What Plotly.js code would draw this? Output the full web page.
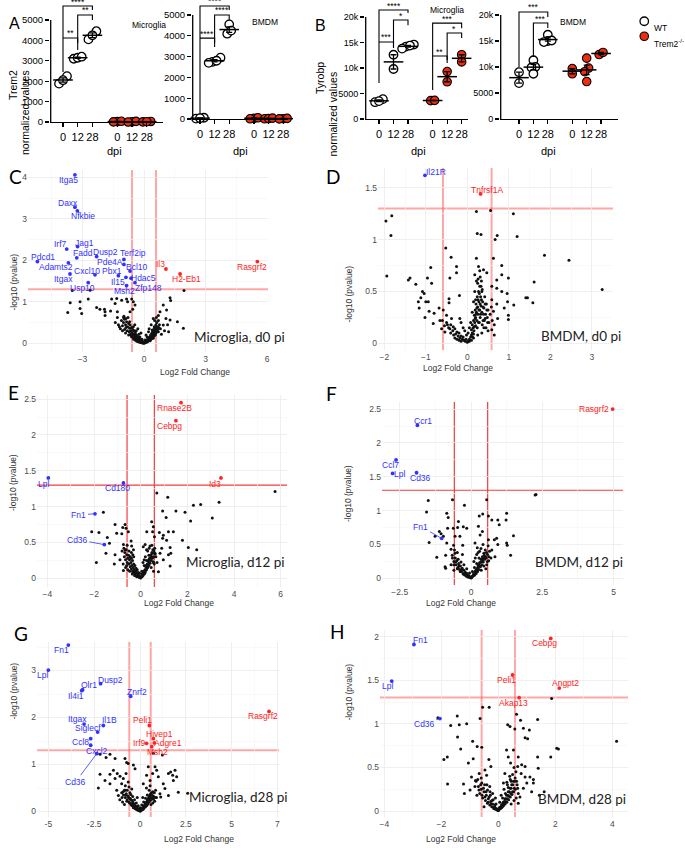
<!DOCTYPE html>
<html><head><meta charset="utf-8">
<script src="https://cdn.plot.ly/plotly-3.0.1.min.js"></script>
<style>html,body{margin:0;padding:0;background:#fff}</style>
</head><body><div id="chart" style="width:685px;height:851px"></div>
<script>
// ================= DATA =================
const dpiLabels = ['0','12','28'];
const genotypes = ['WT','Trem2<sup>-/-</sup>'];
// Panel A: Trem2 normalized values [dpi0, dpi12, dpi28]
const trem2MicWT  = [[2250,1880,2050],[3100,3150,3200],[4450,4050,4250]];
const trem2MicKO  = [[20,5,35],[10,30,0],[25,5,15]];
const trem2BmdmWT = [[20,60,40],[2950,2750,2700,2800],[4550,4100,4250]];
const trem2BmdmKO = [[30,60,10],[10,20,40],[15,5,30]];
// Panel B: Tyrobp normalized values
const tyrobpMicWT  = [[3900,3300,3500],[12600,9800],[14600,14200,13800,14400]];
const tyrobpMicKO  = [[3600,3650],[9300,7300],[12600,11200]];
const tyrobpBmdmWT = [[9000,6900],[11300,10000,9900,8700],[16200,15000,14800,15100]];
const tyrobpBmdmKO = [[9700,8700],[11700,9800,9100,7200],[12400,12800]];

// Volcano panels: [log2FC, -log10 p] for unlabelled genes
const cPoints = [[-3.5,1.27],[-3.12,1.0],[-3.12,0.84],[-3.6,0.98],[-3.72,0.74],[-3.04,0.72],[-2.72,1.07],[-2.63,1.28],[-2.31,0.86],[-2.15,0.82],[-1.93,0.82],[-1.9,0.67],[-1.9,0.76],[-1.58,1.07],[-1.41,0.96],[-1.33,1.08],[-1.3,0.76],[-1.63,0.78],[-1.09,1.04],[-0.85,1.07],[-0.8,1.0],[-0.6,1.07],[-0.52,1.0],[-0.44,0.92],[-0.55,0.82],[-0.68,0.76],[1.95,1.27],[1.27,1.1],[1.3,1.03],[1.1,0.8],[0.94,0.92],[0.78,0.76],[0.7,0.67],[1.27,0.56],[1.63,0.52],[1.92,0.36],[1.2,0.28],[0.94,0.44],[1.07,0.6],
[-1.1,0.55],[-1.0,0.5],[-0.95,0.58],[-0.9,0.45],[-0.85,0.52],[-0.8,0.4],[-0.75,0.48],[-0.7,0.36],[-0.68,0.44],[-0.65,0.3],[-0.6,0.38],[-0.58,0.26],[-0.55,0.33],[-0.5,0.22],[-0.48,0.3],[-0.45,0.18],[-0.42,0.25],[-0.4,0.14],[-0.38,0.2],[-0.35,0.12],[-0.32,0.17],[-0.3,0.09],[-0.28,0.14],[-0.25,0.07],[-0.22,0.11],[-0.2,0.05],[-0.18,0.09],[-0.15,0.04],[-0.12,0.06],[-0.1,0.02],[-0.08,0.04],[-0.05,0.01],[-0.03,0.03],[0,0.01],[0.02,0.02],[0.05,0.03],[0.08,0.05],[0.1,0.03],[0.12,0.07],[0.15,0.05],[0.18,0.1],[0.2,0.08],[0.22,0.13],[0.25,0.1],[0.28,0.16],[0.3,0.12],[0.32,0.2],[0.35,0.15],[0.38,0.24],[0.4,0.18],[0.42,0.28],[0.45,0.22],[0.48,0.33],[0.5,0.26],[0.52,0.38],[0.55,0.3],[0.58,0.44],[0.6,0.35],[0.62,0.5],[0.65,0.4],[0.7,0.55],[0.75,0.45],
[-1.3,0.62],[-1.2,0.4],[-1.05,0.3],[-0.9,0.25],[-0.75,0.2],[-0.6,0.15],[-0.5,0.1],[-0.35,0.05],[-0.2,0.15],[-0.1,0.1],[0.05,0.08],[0.15,0.15],[0.3,0.06],[0.45,0.12],[0.55,0.2],[0.7,0.28],[0.8,0.35],[0.85,0.22],[1.0,0.3],[1.15,0.45],[-1.4,0.5],[-1.25,0.45],[-0.98,0.65],[-0.78,0.62],[0.35,0.45],[0.25,0.35],[-0.15,0.25],[-0.3,0.35],[-0.45,0.45],[0.6,0.62]];
const cPoints2 = [[-1.15,0.35],[-1.05,0.42],[-0.95,0.33],[-0.88,0.38],[-0.82,0.3],[-0.72,0.28],[-0.66,0.22],[-0.62,0.18],[-0.56,0.2],[-0.52,0.14],[-0.46,0.12],[-0.43,0.08],[-0.37,0.08],[-0.33,0.06],[-0.27,0.04],[-0.23,0.03],[-0.17,0.02],[-0.13,0.02],[-0.07,0.01],[0.03,0.01],[0.07,0.02],[0.13,0.03],[0.17,0.04],[0.23,0.06],[0.27,0.07],[0.33,0.09],[0.37,0.11],[0.43,0.14],[0.47,0.17],[0.53,0.2],[0.57,0.24],[0.63,0.28],[0.67,0.33],[0.72,0.38],[-0.7,0.52],[-0.52,0.4],[-0.38,0.3],[-0.25,0.22],[0.1,0.2],[0.22,0.28],[0.4,0.32],[0.5,0.4],[-1.0,0.62],[-0.88,0.6],[0.52,0.55],[0.45,0.6]];
const cGenes = ['Itga5','Daxx','Nfkbie','Irf7','Jag1','Fadd','Pdcd1','Adamts2','Dusp2','Terf2ip','Pde4A','Bcl10','Cxcl10','Pbx1','Itgax','Hdac5','Il15','Zfp148','Usp10','Msh2','Il3','H2-Eb1','Rasgrf2'];
const cGeneFC = [-3.37,-3.37,-3.25,-3.77,-3.24,-3.28,-5.2,-3.69,-2.31,-0.98,-0.98,-0.68,-2.39,-1.25,-3.61,-0.63,-0.88,-0.44,-2.72,-0.85,1.07,1.76,5.53];
const cGeneP  = [4.06,3.28,3.19,2.27,2.33,2.06,1.97,1.94,2.09,2.02,1.9,1.74,1.65,1.63,1.67,1.57,1.59,1.46,1.46,1.39,1.79,1.67,1.97];

const dPoints = [[-1.96,1.18],[-1.82,1.23],[-1.84,1.04],[-1.94,0.65],[-1.42,0.61],[-1.38,0.63],[-1.24,0.57],[-1.08,0.5],[-1.04,0.48],[-1.12,0.44],[-1.18,0.4],[-1.16,0.34],[-1.0,0.4],[-0.94,0.4],[-0.96,0.63],[-0.88,0.73],[-0.86,0.58],[-1.02,0.25],[-0.92,0.31],[-0.8,0.29],[-0.82,0.19],[-0.68,0.34],[-0.66,0.22],[-0.6,0.22],[-0.58,0.32],[-0.52,0.92],[-0.39,0.83],[-0.26,0.74],[-0.26,0.68],[-0.42,0.63],[-0.44,0.43],[-0.44,0.39],[-0.19,0.46],[-0.5,0.27],[-0.38,0.24],[-0.34,0.16],[-0.18,0.24],[-0.54,0.11],[-0.62,0.14],
[0.22,1.27],[0.56,1.28],[1.11,1.25],[0.24,1.06],[0.33,1.05],[0.72,1.04],[0.67,1.0],[1.2,1.03],[0.22,0.82],[0.63,0.82],[0.27,0.74],[0.39,0.71],[0.18,0.66],[0.31,0.64],[0.47,0.68],[0.83,0.75],[0.83,0.66],[0.99,0.63],[0.71,0.61],[0.59,0.55],[0.71,0.53],[0.83,0.5],[0.96,0.48],[0.97,0.4],[0.99,0.27],[0.99,0.23],[0.89,0.34],[0.71,0.38],[0.59,0.42],[0.63,0.31],[1.12,0.37],[1.41,0.44],[1.45,0.44],[1.58,0.39],[1.61,0.59],[1.86,0.85],[2.45,0.8],[3.25,0.52],[0.65,0.18],[0.59,0.13],[0.65,0.08],[0.73,0.24],[0.43,0.24],
[-0.5,0.2],[-0.45,0.15],[-0.4,0.18],[-0.35,0.12],[-0.3,0.14],[-0.28,0.09],[-0.25,0.11],[-0.22,0.07],[-0.2,0.1],[-0.18,0.05],[-0.15,0.07],[-0.12,0.04],[-0.1,0.06],[-0.08,0.03],[-0.05,0.02],[-0.03,0.04],[0,0.01],[0.02,0.02],[0.05,0.04],[0.08,0.06],[0.1,0.08],[0.1,0.13],[0.12,0.1],[0.12,0.18],[0.14,0.15],[0.15,0.22],[0.16,0.12],[0.17,0.27],[0.18,0.2],[0.19,0.32],[0.2,0.17],[0.2,0.25],[0.21,0.38],[0.22,0.3],[0.23,0.22],[0.24,0.45],[0.25,0.35],[0.26,0.28],[0.27,0.5],[0.28,0.4],[0.29,0.2],[0.3,0.32],[0.3,0.55],[0.31,0.25],[0.32,0.45],[0.33,0.36],[0.34,0.6],[0.35,0.3],[0.36,0.52],[0.37,0.4],[0.38,0.22],[0.4,0.34],[0.42,0.45],[0.44,0.28],[0.46,0.38],[0.48,0.25],[0.5,0.32],[0.52,0.2],[0.55,0.28],[0.58,0.35],[0.6,0.22],[0.12,0.3],[0.08,0.2],[0.05,0.15],[0.15,0.4],[0.18,0.5],[0.22,0.6],[0.25,0.58],[0.3,0.7],[0.02,0.1],[-0.02,0.08],[-0.06,0.12],[-0.1,0.15],[-0.15,0.2],[-0.3,0.05],[-0.4,0.1],[-0.55,0.17],[0.4,0.15],[0.5,0.12],[0.35,0.1],[0.25,0.08],[0.15,0.05]];
const dPoints2 = [[0.1,0.03],[0.13,0.06],[0.15,0.09],[0.17,0.16],[0.19,0.24],[0.21,0.28],[0.23,0.34],[0.24,0.15],[0.26,0.42],[0.27,0.2],[0.28,0.32],[0.29,0.48],[0.31,0.38],[0.32,0.28],[0.34,0.42],[0.35,0.5],[0.36,0.18],[0.38,0.35],[0.39,0.28],[0.41,0.22],[0.43,0.38],[0.45,0.15],[0.47,0.32],[0.49,0.2],[-0.25,0.04],[-0.2,0.03],[-0.33,0.08],[-0.42,0.14],[-0.48,0.18],[-0.15,0.02],[0.05,0.02],[0.2,0.42],[0.26,0.62],[0.33,0.55]];
const dGenes = ['Il21R','Tnfrsf1A'];
const dGeneFC = [-1.02,0.32];
const dGeneP  = [1.62,1.44];

const ePoints = [[-1.6,0.92],[-2.1,0.65],[-1.79,0.64],[-1.43,0.57],[-1.34,0.49],[-1.49,0.35],[-1.9,0.22],[-1.1,0.75],[-1.03,0.63],[-1.1,0.33],[-1.13,0.2],[-0.77,0.71],[-0.67,0.75],[-0.63,0.7],[-0.53,0.65],[-0.81,0.62],[-0.74,0.47],[-0.67,0.4],[-0.41,0.52],[-0.39,0.45],[-0.31,0.4],[-0.34,0.33],[-0.89,0.26],[-0.74,0.11],
[0.69,1.19],[1.16,1.13],[0.94,0.94],[1.09,0.85],[1.51,0.94],[1.9,0.92],[2.26,1.02],[2.57,1.03],[3.36,1.06],[2.14,0.8],[3.07,0.84],[1.79,0.53],[2.04,0.43],[2.4,0.4],[5.76,1.21],[0.47,0.79],[0.54,0.72],[0.51,0.65],[0.59,0.58],[0.8,0.64],[0.97,0.6],[1.19,0.65],[1.4,0.65],[0.94,0.56],[1.11,0.53],[1.26,0.43],[1.29,0.35],[1.19,0.33],[0.9,0.42],[0.83,0.35],[0.97,0.26],[1.26,0.17],[0.76,0.09],[0.26,0.65],[0.19,0.47],[0.11,0.44],[0.61,0.35],[0.54,0.23],
[-0.7,0.3],[-0.65,0.26],[-0.6,0.33],[-0.58,0.22],[-0.55,0.28],[-0.5,0.2],[-0.48,0.26],[-0.45,0.16],[-0.42,0.22],[-0.4,0.13],[-0.38,0.18],[-0.35,0.1],[-0.32,0.15],[-0.3,0.08],[-0.28,0.12],[-0.25,0.06],[-0.22,0.1],[-0.2,0.04],[-0.18,0.08],[-0.15,0.03],[-0.12,0.06],[-0.1,0.02],[-0.08,0.04],[-0.05,0.01],[-0.02,0.02],[0,0.005],[0.03,0.02],[0.05,0.03],[0.08,0.05],[0.1,0.04],[0.12,0.08],[0.15,0.06],[0.18,0.12],[0.2,0.09],[0.22,0.16],[0.25,0.12],[0.28,0.2],[0.3,0.15],[0.32,0.24],[0.35,0.18],[0.38,0.28],[0.4,0.21],[0.42,0.32],[0.45,0.25],[0.48,0.36],[0.5,0.28],[0.52,0.4],[0.55,0.3],[0.58,0.2],[0.6,0.42],[0.65,0.3],[-0.75,0.2],[-0.65,0.15],[-0.55,0.12],[-0.45,0.3],[-0.35,0.25],[-0.25,0.18],[-0.15,0.12],[-0.05,0.07],[0.05,0.1],[0.15,0.18],[0.25,0.25],[0.35,0.32],[0.45,0.15],[0.55,0.1],[0.2,0.3],[0.3,0.38],[0.1,0.22],[-0.3,0.3],[-0.5,0.38],[-0.8,0.38],[-0.62,0.4],[0.4,0.45],[0.7,0.22]];
const ePoints2 = [[-0.68,0.36],[-0.6,0.18],[-0.52,0.32],[-0.47,0.1],[-0.4,0.28],[-0.36,0.06],[-0.3,0.2],[-0.26,0.04],[-0.2,0.14],[-0.17,0.02],[-0.11,0.04],[-0.07,0.02],[0.01,0.01],[0.07,0.03],[0.11,0.06],[0.14,0.1],[0.17,0.07],[0.21,0.12],[0.24,0.18],[0.27,0.15],[0.31,0.2],[0.34,0.26],[0.37,0.22],[0.41,0.28],[0.44,0.33],[0.47,0.3],[0.51,0.35],[0.54,0.22],[0.57,0.38],[0.62,0.34],[-0.72,0.42],[-0.58,0.46],[0.25,0.4],[0.36,0.42],[0.48,0.46],[-0.4,0.36],[0.15,0.26],[-0.1,0.08],[0.05,0.06],[-0.32,0.08]];
const eGenes = ['Rnase2B','Cebpg','Id3','Lpl','Cd180','Fn1','Cd36'];
const eGeneFC = [1.73,1.51,3.44,-3.96,-0.74,-1.96,-1.56];
const eGeneP  = [2.45,2.2,1.4,1.4,1.33,0.9,0.47];

const fPoints = [[-1.5,1.15],[-1.56,0.98],[-1.47,0.53],[-1.26,0.62],[-1.2,0.31],[-0.91,0.17],[-0.89,0.15],[-0.89,0.34],[-0.85,0.96],[-0.8,0.9],[-0.82,0.74],[-1.05,0.66],[-0.97,0.62],[-1.11,0.69],[-0.65,1.16],[-0.23,1.08],[-0.44,0.84],[-0.27,0.76],[-0.15,0.74],[-0.62,0.74],[-0.47,0.75],[-0.56,0.62],[-0.39,0.62],[-0.61,0.49],[-0.56,0.37],[-0.7,0.43],[-0.29,0.49],[-0.85,0.52],
[0.55,1.16],[2.25,1.23],[2.28,1.24],[0.29,0.92],[0.41,0.95],[0.61,0.92],[0.94,0.86],[1.23,0.86],[1.25,0.96],[0.73,0.86],[0.99,0.79],[0.26,0.77],[0.4,0.69],[0.32,0.64],[0.61,0.57],[0.82,0.57],[0.9,0.59],[0.94,0.5],[1.25,0.52],[1.27,0.49],[1.49,0.63],[1.39,0.34],[0.84,0.32],[0.73,0.42],[0.14,0.52],
[-0.65,0.3],[-0.6,0.25],[-0.55,0.3],[-0.52,0.2],[-0.5,0.26],[-0.46,0.16],[-0.43,0.22],[-0.4,0.13],[-0.37,0.18],[-0.34,0.1],[-0.31,0.15],[-0.28,0.07],[-0.25,0.12],[-0.22,0.05],[-0.2,0.09],[-0.17,0.04],[-0.14,0.07],[-0.11,0.02],[-0.08,0.04],[-0.05,0.015],[-0.02,0.02],[0,0.005],[0.03,0.02],[0.06,0.035],[0.09,0.06],[0.12,0.045],[0.15,0.1],[0.18,0.07],[0.2,0.14],[0.23,0.1],[0.25,0.19],[0.28,0.13],[0.3,0.23],[0.33,0.17],[0.35,0.28],[0.38,0.2],[0.4,0.32],[0.43,0.24],[0.45,0.37],[0.48,0.28],[0.5,0.42],[0.53,0.3],[0.55,0.2],[0.58,0.35],[0.62,0.26],[0.65,0.4],[0.7,0.3],[-0.7,0.2],[-0.6,0.12],[-0.45,0.28],[-0.35,0.24],[-0.25,0.2],[-0.15,0.14],[-0.05,0.08],[0.05,0.1],[0.12,0.16],[0.2,0.22],[0.28,0.3],[0.36,0.12],[0.45,0.18],[0.52,0.14],[0.1,0.25],[0.2,0.35],[0.3,0.4],[0.22,0.45],[-0.3,0.35],[-0.48,0.38],[-0.58,0.42],[0.6,0.48],[0.42,0.5]];
const fPoints2 = [[-0.6,0.2],[-0.54,0.24],[-0.48,0.14],[-0.42,0.18],[-0.38,0.1],[-0.32,0.12],[-0.26,0.06],[-0.21,0.07],[-0.16,0.03],[-0.12,0.04],[-0.04,0.01],[0.02,0.01],[0.05,0.03],[0.08,0.04],[0.11,0.07],[0.14,0.06],[0.17,0.12],[0.21,0.1],[0.24,0.16],[0.27,0.2],[0.31,0.18],[0.34,0.24],[0.37,0.28],[0.41,0.26],[0.44,0.3],[0.47,0.34],[0.51,0.32],[0.54,0.38],[0.57,0.25],[0.63,0.32],[-0.66,0.34],[0.15,0.3],[0.25,0.38],[0.35,0.44]];
const fGenes = ['Rasgrf2','Ccr1','Ccl7','Lpl','Cd36','Fn1'];
const fGeneFC = [4.97,-1.88,-2.63,-2.75,-1.91,-1.03];
const fGeneP  = [2.5,2.26,1.75,1.55,1.56,0.59];

const gPoints = [[-2.18,1.22],[-1.85,1.15],[-1.64,1.22],[-1.36,1.13],[-0.82,1.13],[-0.73,1.04],[-0.64,1.02],[-0.36,0.99],[-0.27,0.91],[-2.27,0.5],[-2.18,0.79],[-1.91,0.66],[-1.64,0.59],[-1.36,0.7],[-1.24,0.81],[-1.09,0.75],[-1.64,0.79],[-1.45,0.88],[-1.0,0.59],[-0.91,0.7],[-0.76,0.81],[-0.64,0.63],[-1.27,0.45],[-1.18,0.34],[-0.82,0.45],
[0.73,1.24],[1.22,1.2],[1.55,0.81],[1.67,0.84],[1.78,0.77],[1.91,0.88],[2.0,0.74],[1.82,0.66],[2.09,0.41],[2.6,0.39],[1.0,0.74],[1.27,0.59],[1.36,0.49],[1.55,0.34],[1.13,0.31],[1.09,0.38],[0.82,0.95],[0.91,0.88],[0.69,0.81],[0.55,0.66],[0.45,0.95],[0.36,0.77],[0.18,0.59],
[-1.0,0.4],[-0.9,0.35],[-0.85,0.45],[-0.8,0.3],[-0.75,0.38],[-0.7,0.25],[-0.65,0.33],[-0.6,0.2],[-0.55,0.28],[-0.5,0.16],[-0.45,0.24],[-0.42,0.12],[-0.38,0.18],[-0.35,0.1],[-0.3,0.14],[-0.27,0.07],[-0.23,0.11],[-0.2,0.05],[-0.17,0.08],[-0.13,0.03],[-0.1,0.05],[-0.07,0.02],[-0.04,0.03],[0,0.01],[0.03,0.02],[0.06,0.04],[0.1,0.03],[0.13,0.07],[0.17,0.05],[0.2,0.1],[0.23,0.08],[0.27,0.14],[0.3,0.1],[0.33,0.18],[0.37,0.13],[0.4,0.23],[0.43,0.16],[0.47,0.28],[0.5,0.2],[0.53,0.33],[0.57,0.24],[0.6,0.38],[0.65,0.28],[0.7,0.42],[0.75,0.32],[0.8,0.22],[0.85,0.45],[0.9,0.3],[-1.1,0.25],[-0.95,0.2],[-0.85,0.15],[-0.7,0.45],[-0.55,0.4],[-0.4,0.32],[-0.3,0.25],[-0.2,0.18],[-0.1,0.12],[0,0.08],[0.1,0.14],[0.2,0.2],[0.3,0.28],[0.4,0.35],[0.5,0.45],[0.6,0.15],[0.7,0.18],[-0.6,0.52],[-0.45,0.48],[0.35,0.5],[0.15,0.3],[-0.15,0.3],[0.55,0.55],[-0.8,0.55]];
const gPoints2 = [[-0.98,0.3],[-0.92,0.42],[-0.78,0.35],[-0.72,0.22],[-0.62,0.3],[-0.57,0.18],[-0.52,0.26],[-0.47,0.14],[-0.4,0.2],[-0.36,0.08],[-0.32,0.16],[-0.25,0.06],[-0.21,0.09],[-0.15,0.04],[-0.12,0.06],[-0.05,0.02],[0.02,0.01],[0.05,0.03],[0.08,0.05],[0.12,0.04],[0.15,0.08],[0.18,0.07],[0.22,0.12],[0.25,0.1],[0.29,0.16],[0.32,0.14],[0.35,0.2],[0.38,0.17],[0.42,0.26],[0.45,0.2],[0.49,0.31],[0.52,0.24],[0.55,0.36],[0.58,0.3],[0.62,0.4],[0.68,0.34],[0.72,0.26],[0.78,0.4],[0.82,0.3],[-0.5,0.36]];
const gGenes = ['Fn1','Lpl','Olr1','Dusp2','Il4i1','Znrf2','Itgax','Il1B','Siglecf','Ccl8','Cxcl2','Cd36','Peli1','Hivep1','Irf9','Adgre1','Msh2','Rasgrf2'];
const gGeneFC = [-3.91,-5.0,-3.13,-2.15,-3.18,-0.51,-3.05,-2.0,-2.31,-2.69,-2.69,-2.36,0.51,0.73,0.36,0.78,0.64,7.04];
const gGeneP  = [3.54,3.01,2.59,2.72,2.57,2.45,1.86,1.83,1.69,1.55,1.41,1.23,1.83,1.55,1.45,1.46,1.38,2.13];
const gTickVals = [-5,-2.5,0,2.5,5,7.5];
const gTickText = ['-5','-2.5','0','2.5','5','7'];

const hPoints = [[1.87,1.29],[-0.55,1.19],[-0.32,1.19],[0.64,1.11],[0.78,1.04],[0.33,0.99],[0.41,0.97],[0.58,0.94],[0.88,0.95],[1.09,0.93],[0.94,0.84],[1.03,0.83],[1.38,1.05],[2.05,0.72],[2.11,0.71],[1.84,0.62],[1.38,0.62],[1.4,0.49],[1.61,0.22],[1.44,0.18],[4.15,0.8],
[-2.12,1.07],[-1.67,0.98],[-1.37,0.99],[-1.44,1.09],[-1.11,1.0],[-1.43,0.85],[-1.32,0.71],[-1.79,0.62],[-1.91,0.59],[-1.78,0.31],[-1.22,0.31],[-1.19,0.2],[-1.05,0.55],[-0.9,0.8],[-0.74,0.74],[-0.58,0.73],[-0.64,1.06],[-0.88,0.6],[-0.94,0.39],[-0.78,0.34],[-0.82,0.28],[-0.99,0.24],[-0.67,0.43],[-0.33,0.59],[-0.26,0.51],[-0.41,0.41],[-0.47,0.47],[-0.29,0.22],
[0.29,0.7],[0.35,0.62],[0.43,0.55],[0.53,0.7],[0.7,0.62],[0.68,0.51],[0.82,0.53],[0.94,0.51],[0.8,0.43],[0.94,0.39],[1.11,0.39],[1.23,0.36],[1.23,0.32],[1.0,0.32],[0.88,0.26],[0.76,0.16],[0.7,0.09],[1.17,0.22],[0.23,0.43],[0.18,0.32],
[-0.7,0.28],[-0.65,0.2],[-0.6,0.25],[-0.55,0.15],[-0.5,0.22],[-0.45,0.12],[-0.42,0.18],[-0.38,0.09],[-0.35,0.14],[-0.3,0.07],[-0.27,0.11],[-0.23,0.05],[-0.2,0.08],[-0.16,0.03],[-0.13,0.05],[-0.1,0.02],[-0.07,0.03],[-0.03,0.01],[0,0.005],[0.03,0.02],[0.06,0.03],[0.09,0.05],[0.12,0.04],[0.15,0.08],[0.18,0.06],[0.21,0.11],[0.24,0.08],[0.27,0.14],[0.3,0.1],[0.33,0.18],[0.36,0.13],[0.39,0.22],[0.42,0.16],[0.45,0.26],[0.48,0.19],[0.51,0.3],[0.54,0.22],[0.57,0.34],[0.6,0.25],[0.63,0.15],[0.66,0.3],[0.7,0.2],[-0.8,0.35],[-0.75,0.18],[-0.58,0.32],[-0.48,0.3],[-0.38,0.24],[-0.28,0.18],[-0.18,0.13],[-0.08,0.08],[0.05,0.1],[0.15,0.15],[0.25,0.2],[0.35,0.27],[0.45,0.34],[0.55,0.12],[0.4,0.4],[0.3,0.33],[0.2,0.25],[0.1,0.18],[-0.1,0.15],[-0.2,0.2],[-0.4,0.3],[-0.6,0.38],[0.5,0.42],[0.62,0.45],[-0.5,0.05],[0.45,0.08]];
const hPoints2 = [[-0.68,0.24],[-0.62,0.3],[-0.57,0.18],[-0.52,0.26],[-0.47,0.16],[-0.43,0.22],[-0.36,0.1],[-0.32,0.16],[-0.25,0.08],[-0.22,0.12],[-0.15,0.04],[-0.12,0.07],[-0.05,0.02],[0.01,0.01],[0.04,0.04],[0.08,0.03],[0.11,0.07],[0.14,0.05],[0.17,0.1],[0.2,0.08],[0.23,0.14],[0.26,0.11],[0.29,0.18],[0.32,0.14],[0.35,0.22],[0.38,0.17],[0.41,0.26],[0.44,0.2],[0.47,0.3],[0.5,0.22],[0.53,0.34],[0.56,0.26],[0.59,0.38],[0.64,0.34],[0.68,0.26],[-0.72,0.36],[0.42,0.36],[0.32,0.3],[-0.3,0.28],[0.55,0.5]];
const hGenes = ['Fn1','Lpl','Cd36','Cebpg','Peli1','Angpt2','Akap13'];
const hGeneFC = [-2.96,-3.74,-2.05,1.84,0.5,2.14,0.73];
const hGeneP  = [1.91,1.49,1.06,1.98,1.56,1.41,1.3];

const panelTitles = ['Microglia, d0 pi','BMDM, d0 pi','Microglia, d12 pi','BMDM, d12 pi','Microglia, d28 pi','BMDM, d28 pi'];

// ================= LAYOUT HELPERS =================
const W = 685, H = 851;
const PX = x => x / W, PY = y => 1 - y / H;
const ARIAL = 'Liberation Sans, Arial, sans-serif';
const BLUE = 'rgb(50,50,255)', RED = 'rgb(255,35,35)';
const traces = [];
const layout = {width:W, height:H, margin:{l:0,r:0,t:0,b:0}, paper_bgcolor:'#fff', plot_bgcolor:'rgba(0,0,0,0)',
  showlegend:false, font:{family:ARIAL, size:10, color:'#000'}, annotations:[], shapes:[]};
const ann = a => layout.annotations.push(Object.assign({showarrow:false, xref:'paper', yref:'paper'}, a));

// ---------- dot plots (A, B) ----------
const KO_SHIFT = 3.7;
const posOf = gi => gi < 3 ? gi : gi - 3 + KO_SHIFT;
function spread(vals, pxPerUnit){
  const idx = vals.map((v,i)=>i).sort((a,b)=>vals[a]-vals[b]);
  const offs = new Array(vals.length).fill(0);
  let cl = [idx[0]];
  const flush = () => { const m = cl.length; cl.forEach((k,j)=>offs[k] = (j-(m-1)/2)*0.27); };
  for (let i=1;i<idx.length;i++){
    if ((vals[idx[i]] - vals[cl[cl.length-1]]) * pxPerUnit < 5) cl.push(idx[i]);
    else { flush(); cl = [idx[i]]; }
  }
  flush();
  return offs;
}
const dotPanels = [
  {n:1, wt:trem2MicWT, ko:trem2MicKO, xd:[50,163], x0:63, xs:14.7, y0:122, ys:102/5000, ticks:[0,1000,2000,3000,4000,5000],
   br:[{a:0,b:2,h:5686,la:2450,lb:5490,t:'****'},{a:0,b:1,h:4118,la:4118,lb:3870,t:'**'},{a:1,b:2,h:5245,la:3530,lb:5000,t:'**'}]},
  {n:2, wt:trem2BmdmWT, ko:trem2BmdmKO, xd:[192,288], x0:200, xs:14.6, y0:119, ys:104/5000, ticks:[0,1000,2000,3000,4000,5000],
   br:[{a:0,b:2,h:5433,la:220,lb:5240,t:'****'},{a:0,b:1,h:3890,la:3890,lb:3650,t:'****'},{a:1,b:2,h:5000,la:3460,lb:4760,t:'****'}]},
  {n:3, wt:tyrobpMicWT, ko:tyrobpMicKO, xd:[365,468], x0:379, xs:14.5, y0:119, ys:102/20000, ticks:[0,5000,10000,15000,20000],
   br:[{a:0,b:2,h:21370,la:7060,lb:20780,t:'****'},{a:0,b:1,h:15100,la:15100,lb:14100,t:'***'},{a:1,b:2,h:19400,la:13900,lb:18400,t:'*'},
       {a:3,b:5,h:18800,la:5700,lb:17800,t:'***'},{a:3,b:4,h:12350,la:12350,lb:11570,t:'**'},{a:4,b:5,h:16860,la:10980,lb:15900,t:'*'}]},
  {n:4, wt:tyrobpBmdmWT, ko:tyrobpBmdmKO, xd:[500,618], x0:519, xs:14.4, y0:119, ys:104/20000, ticks:[0,5000,10000,15000,20000],
   br:[{a:0,b:2,h:20580,la:10000,lb:19600,t:'***'},{a:1,b:2,h:18460,la:11920,lb:17500,t:'***'}]}
];
dotPanels.forEach(p=>{
  const sfx = p.n === 1 ? '' : String(p.n);
  const xa = 'x'+sfx, ya = 'y'+sfx;
  const xr = [(p.xd[0]-p.x0)/p.xs, (p.xd[1]-p.x0)/p.xs];
  const yTopPx = 3;
  const yr = [0, (p.y0 - yTopPx)/p.ys];
  layout['xaxis'+sfx] = {domain:[PX(p.xd[0]),PX(p.xd[1])], range:xr, anchor:ya, showgrid:false, zeroline:false,
    showline:true, linecolor:'#000', linewidth:1.3, ticks:'outside', ticklen:4, tickwidth:1.3, tickcolor:'#000',
    tickmode:'array', tickvals:[0,1,2,3,4,5].map(posOf), ticktext:dpiLabels.concat(dpiLabels),
    tickfont:{family:ARIAL,size:11,color:'#000'}, fixedrange:true};
  layout['yaxis'+sfx] = {domain:[PY(p.y0),PY(yTopPx)], range:yr, anchor:xa, showgrid:false, zeroline:false,
    showline:false, ticks:'outside', ticklen:4, tickwidth:1.3, tickcolor:'#000', tickmode:'array', tickvals:p.ticks,
    tickfont:{family:ARIAL,size:p.n<3?9.5:9,color:'#000'}, fixedrange:true};
  const lx = xr[0] + 0.7/p.xs;
  layout.shapes.push({type:'line', xref:xa, yref:ya, x0:lx, x1:lx, y0:0, y1:p.ticks[p.ticks.length-1], line:{color:'#000',width:1.3}});
  const groups = p.wt.concat(p.ko);
  const wx=[], wy=[], kx=[], ky=[], mx=[], my=[], me=[];
  groups.forEach((vals, gi)=>{
    const offs = spread(vals, p.ys);
    vals.forEach((v,i)=>{ (gi<3?wx:kx).push(posOf(gi)+offs[i]); (gi<3?wy:ky).push(v); });
    const m = vals.reduce((s,v)=>s+v,0)/vals.length;
    const sd = Math.sqrt(vals.reduce((s,v)=>s+(v-m)*(v-m),0)/(vals.length-1));
    mx.push(posOf(gi)); my.push(m); me.push(sd/Math.sqrt(vals.length));
  });
  traces.push({type:'scatter', mode:'markers', x:wx, y:wy, xaxis:xa, yaxis:ya, cliponaxis:false, hoverinfo:'skip',
    marker:{size:8.5, color:'#fff', line:{color:'#000', width:1.3}}});
  traces.push({type:'scatter', mode:'markers', x:kx, y:ky, xaxis:xa, yaxis:ya, cliponaxis:false, hoverinfo:'skip',
    marker:{size:8.5, color:'rgb(238,45,15)', line:{color:'#000', width:1.1}}});
  traces.push({type:'scatter', mode:'markers', x:mx, y:my, xaxis:xa, yaxis:ya, cliponaxis:false, hoverinfo:'skip',
    marker:{symbol:'line-ew', size:14, color:'#000', line:{color:'#000', width:1.5}},
    error_y:{type:'data', array:me, visible:true, color:'#000', thickness:1.3, width:3}});
  p.br.forEach(b=>{
    const xa0 = posOf(b.a), xb0 = posOf(b.b);
    layout.shapes.push({type:'path', xref:xa, yref:ya, path:`M${xa0},${b.la} L${xa0},${b.h} L${xb0},${b.h} L${xb0},${b.lb}`,
      line:{color:'#000', width:1.1}});
    layout.annotations.push({xref:xa, yref:ya, x:(xa0+xb0)/2, y:b.h, text:b.t, showarrow:false, yanchor:'bottom', yshift:-2.5,
      font:{family:ARIAL, size:8.5, color:'#000'}});
  });
});
// A/B texts
ann({x:PX(7), y:PY(13), text:'A', font:{family:ARIAL,size:16}});
ann({x:PX(320), y:PY(15), text:'B', font:{family:ARIAL,size:16}});
ann({x:PX(5), y:PY(68), text:'Trem2', textangle:-90, font:{family:ARIAL,size:10.5}});
ann({x:PX(16.5), y:PY(68), text:'normalized values', textangle:-90, font:{family:ARIAL,size:10.5}});
ann({x:PX(320), y:PY(60), text:'Tyrobp', textangle:-90, font:{family:ARIAL,size:10.5}});
ann({x:PX(332), y:PY(70), text:'normalized values', textangle:-90, font:{family:ARIAL,size:10.5}});
ann({x:PX(130), y:PY(18), text:'Microglia', font:{family:ARIAL,size:8.5}});
ann({x:PX(265), y:PY(15), text:'BMDM', font:{family:ARIAL,size:8.5}});
ann({x:PX(447), y:PY(3), text:'Microglia', font:{family:ARIAL,size:8.5}});
ann({x:PX(588), y:PY(15), text:'BMDM', font:{family:ARIAL,size:8.5}});
[105,240,418,558].forEach(x=>ann({x:PX(x), y:PY(143), text:'dpi', font:{family:ARIAL,size:11}}));
// legend
layout.shapes.push({type:'circle', xref:'paper', yref:'paper', x0:PX(640), x1:PX(648.5), y0:PY(25.5), y1:PY(17), fillcolor:'#fff', line:{color:'#000',width:1.3}});
layout.shapes.push({type:'circle', xref:'paper', yref:'paper', x0:PX(640), x1:PX(648.5), y0:PY(40.5), y1:PY(32), fillcolor:'rgb(238,45,15)', line:{color:'#000',width:1.1}});
ann({x:PX(652), y:PY(21), xanchor:'left', text:genotypes[0], font:{family:ARIAL,size:8.5}});
ann({x:PX(652), y:PY(36), xanchor:'left', text:genotypes[1], font:{family:ARIAL,size:8.5}});

// ---------- volcano plots (C-H) ----------
const FC_CUT = Math.log2(1.5), P_CUT = -Math.log10(0.05);
const soft = {color:'rgba(255,80,80,0.5)', width:2};
const hard = {color:'rgb(245,60,60)', width:1.2};
const volPanels = [
  {L:'C', lp:[7,163], pts:cPoints.concat(cPoints2), g:cGenes, gx:cGeneFC, gy:cGeneP, xd:[28,268], yd:[170,352], x0:144, xs:20.5, y0:343.3, ys:41.5,
   xt:{dtick:3}, yt:{dtick:1}, line:soft, tp:[287,337], xtp:[158,372], ytp:[6,252],
   sh:[[-6.7,5],[-6.7,-4],[6,4.7],[-6,-4.7],[6.7,-4],[6,-5],[6,-4.7],[-12.3,4.7],[9.3,-4.3],[9.3,-6],[-14,-2.7],[6.7,-3.7],[-7.7,-4.3],[-6.7,-4.7],[-6.7,5.3],[12.3,0],[-7.7,4.3],[14,5],[-5.7,5.7],[-1.7,5],[-5.3,-5],[6.7,5.3],[-5,5]]},
  {L:'D', lp:[333,163], pts:dPoints.concat(dPoints2), g:dGenes, gx:dGeneFC, gy:dGeneP, xd:[378,613], yd:[168,350], x0:467.3, xs:41.5, y0:343.3, ys:103.7,
   xt:{dtick:1}, yt:{dtick:0.5}, line:soft, tp:[623,336], xtp:[495,368], ytp:[348,263],
   sh:[[10.7,-3.3],[6,-4.3]]},
  {L:'E', lp:[6,392], pts:ePoints.concat(ePoints2), g:eGenes, gx:eGeneFC, gy:eGeneP, xd:[37,287], yd:[395,587], x0:140.7, xs:23.33, y0:578.3, ys:71.67,
   xt:{dtick:2}, yt:{dtick:0.5}, line:hard, tp:[287,562], xtp:[142,610], ytp:[6,483],
   sh:[[-7,5.7],[-6,5.3],[-6,5.7],[-5,5.7],[-5.7,5],[-16,1,1],[-27,-5,1]]},
  {L:'F', lp:[331,393], pts:fPoints.concat(fPoints2), g:fGenes, gx:fGeneFC, gy:fGeneP, xd:[382,623], yd:[402,585], x0:471, xs:28.5, y0:578.3, ys:67.67,
   xt:{dtick:2.5}, yt:{dtick:0.5}, line:hard, tp:[625,572], xtp:[498,610], ytp:[348,493],
   sh:[[-18.3,0],[6,-4.7],[-5.3,5],[7.3,0.7],[4.3,5.7],[-20.7,-11.7,1]]},
  {L:'G', lp:[12,647], pts:gPoints.concat(gPoints2), g:gGenes, gx:gGeneFC, gy:gGeneP, xd:[37,279], yd:[642,817], x0:140, xs:18.33, y0:811.5, ys:47,
   xt:{vals:gTickVals, text:gTickText, minor:1.25}, yt:{dtick:1}, line:soft, tp:[290,807], xtp:[162,846], ytp:[6,722],
   sh:[[-6.7,5],[-5.7,5],[6.7,-5],[10,-4],[-5.7,5.7],[6,-4.3],[-6.3,-5],[6,-5.3],[-9.3,-3.7],[-9.7,3],[6,6],[-21,28,1],[-6.7,-5.3],[6,-4.7],[-6.7,-0.7],[14,0],[5.7,5.3],[-5.7,5]]},
  {L:'H', lp:[337,645], pts:hPoints.concat(hPoints2), g:hGenes, gx:hGeneFC, gy:hGeneP, xd:[380,628], yd:[630,817], x0:498.3, xs:28.5, y0:811, ys:87.17,
   xt:{dtick:2}, yt:{dtick:0.5}, line:soft, tp:[628,809], xtp:[498,846], ytp:[348,722],
   sh:[[7,-5],[-4.3,5],[-15.7,5,1],[-6.3,5],[-6,5],[6.3,-5],[-5.7,5.3]]}
];
volPanels.forEach((p,k)=>{
  const n = 5+k, xa='x'+n, ya='y'+n;
  const xr = [(p.xd[0]-p.x0)/p.xs, (p.xd[1]-p.x0)/p.xs];
  const yr = [(p.y0-p.yd[1])/p.ys, (p.y0-p.yd[0])/p.ys];
  const tf = {family:ARIAL, size:8.5, color:'#4d4d4d'};
  const xaxis = {domain:[PX(p.xd[0]),PX(p.xd[1])], range:xr, anchor:ya, zeroline:false, showline:false, ticks:'',
    showgrid:true, gridcolor:'#ebebeb', gridwidth:0.8, tickfont:tf, fixedrange:true};
  if (p.xt.vals){ Object.assign(xaxis,{tickmode:'array', tickvals:p.xt.vals, ticktext:p.xt.text,
      minor:{showgrid:true, gridcolor:'#f5f5f5', gridwidth:0.6, tickmode:'linear', dtick:p.xt.minor, tick0:0}}); }
  else Object.assign(xaxis,{tickmode:'linear', tick0:0, dtick:p.xt.dtick, minor:{showgrid:true, gridcolor:'#f5f5f5', gridwidth:0.6, dtick:p.xt.dtick/2, tick0:0}});
  layout['xaxis'+n] = xaxis;
  layout['yaxis'+n] = {domain:[PY(p.yd[1]),PY(p.yd[0])], range:yr, anchor:xa, zeroline:false, showline:false, ticks:'',
    showgrid:true, gridcolor:'#ebebeb', gridwidth:0.8, tickfont:tf, tickmode:'linear', tick0:0, dtick:p.yt.dtick,
    minor:{showgrid:true, gridcolor:'#f5f5f5', gridwidth:0.6, dtick:p.yt.dtick/2, tick0:0}, fixedrange:true};
  [-FC_CUT, FC_CUT].forEach(v=>layout.shapes.push({type:'line', xref:xa, yref:ya+' domain', x0:v, x1:v, y0:0, y1:1, line:p.line, layer:'below'}));
  layout.shapes.push({type:'line', xref:xa+' domain', yref:ya, x0:0, x1:1, y0:P_CUT, y1:P_CUT, line:p.line, layer:'below'});
  traces.push({type:'scatter', mode:'markers', x:p.pts.map(d=>d[0]), y:p.pts.map(d=>d[1]), xaxis:xa, yaxis:ya,
    hoverinfo:'skip', marker:{size:3, color:'#111'}});
  const cols = p.gx.map(v=> v<0 ? BLUE : RED);
  traces.push({type:'scatter', mode:'markers', x:p.gx, y:p.gy, xaxis:xa, yaxis:ya, hoverinfo:'skip', cliponaxis:false,
    marker:{size:3.8, color:cols}});
  p.g.forEach((name,i)=>{
    const s = p.sh[i];
    const base = {xref:xa, yref:ya, x:p.gx[i], y:p.gy[i], text:name, font:{family:ARIAL, size:8.5, color:cols[i]}};
    if (s[2]) layout.annotations.push(Object.assign(base,{showarrow:true, arrowhead:0, arrowwidth:0.8, arrowcolor:cols[i], ax:s[0], ay:s[1], standoff:1.5}));
    else layout.annotations.push(Object.assign(base,{showarrow:false, xshift:s[0], yshift:-s[1]}));
  });
  ann({x:PX(p.tp[0]), y:PY(p.tp[1]), xanchor:'right', text:panelTitles[k], font:{family:'Lato, sans-serif', size:13.5, color:'#222'}});
  ann({x:PX(p.xtp[0]), y:PY(p.xtp[1]), text:'Log2 Fold Change', font:{family:ARIAL, size:8.5, color:'#333'}});
  ann({x:PX(p.ytp[0]), y:PY(p.ytp[1]), text:'-log10 (pvalue)', textangle:-90, font:{family:ARIAL, size:8.5, color:'#333'}});
  ann({x:PX(p.lp[0]), y:PY(p.lp[1]), text:p.L, font:{family:'Lato, sans-serif', size:19, color:'#000'}});
});

Plotly.newPlot('chart', traces, layout, {staticPlot:true, displayModeBar:false});
</script></body></html>
